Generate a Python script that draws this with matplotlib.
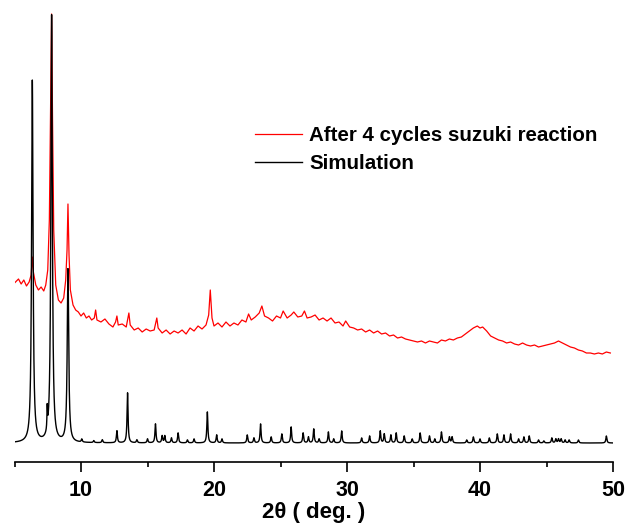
import matplotlib
matplotlib.use("Agg")
import matplotlib.pyplot as plt
import numpy as np

# Simulated pattern: peak positions (2theta), heights above baseline, widths
sim_pos = [6.34, 7.46, 7.79, 9.02, 10.06, 10.96, 11.6, 12.7, 13.5, 14.2, 15.0, 15.6,
           16.1, 16.3, 16.8, 17.3, 18.0, 18.5, 19.5, 20.2, 20.6, 22.5, 23.0, 23.5,
           24.3, 25.1, 25.8, 26.7, 27.1, 27.5, 27.9, 28.6, 29.0, 29.6, 31.1, 31.7,
           32.5, 32.8, 33.3, 33.7, 34.3, 34.9, 35.5, 36.2, 36.6, 37.1, 37.7, 37.9,
           39.0, 39.5, 40.0, 40.7, 41.3, 41.8, 42.3, 42.9, 43.3, 43.7, 44.4, 44.8,
           45.4, 45.7, 45.9, 46.1, 46.4, 46.7, 47.4, 49.5]
sim_height = [362, 22, 427, 173, 3, 2, 3, 12, 50, 3, 4, 19,
              7, 7, 5, 10, 3, 4, 31, 8, 4, 8, 5, 19,
              6, 9, 16, 10, 6, 14, 4, 11, 4, 12, 5, 7,
              12, 9, 8, 10, 7, 4, 10, 7, 4, 11, 6, 6,
              3, 6, 4, 5, 9, 8, 9, 4, 6, 7, 3, 2,
              5, 4, 4, 4, 3, 3, 3, 7]
sim_fwhm = [0.13, 0.05, 0.13, 0.13]
sim_baseline = 24

exp_theta = [5.0, 5.3, 5.5, 5.7, 5.9, 6.1, 6.25, 6.34, 6.42, 6.6, 6.8, 7.0, 7.2, 7.35,
             7.5, 7.62, 7.72, 7.79, 7.86, 7.95, 8.1, 8.3, 8.5, 8.7, 8.85, 8.95, 9.02,
             9.1, 9.2, 9.4, 9.6, 9.8, 10.0, 10.2, 10.4, 10.6, 10.8, 11.0, 11.1, 11.2,
             11.5, 11.8, 12.1, 12.4, 12.6, 12.7, 12.8, 13.1, 13.4, 13.6, 13.7, 14.0,
             14.3, 14.6, 14.9, 15.2, 15.5, 15.7, 15.8, 16.1, 16.4, 16.7, 17.0, 17.3,
             17.6, 17.9, 18.2, 18.5, 18.8, 19.1, 19.4, 19.6, 19.72, 19.85, 20.0, 20.3,
             20.6, 20.9, 21.2, 21.5, 21.8, 22.1, 22.4, 22.6, 22.8, 23.1, 23.4, 23.6,
             23.8, 24.1, 24.4, 24.7, 25.0, 25.2, 25.5, 25.8, 26.0, 26.3, 26.6, 26.8,
             27.0, 27.3, 27.6, 27.9, 28.2, 28.5, 28.8, 29.1, 29.4, 29.7, 29.9, 30.2,
             30.5, 30.8, 31.1, 31.4, 31.7, 32.0, 32.3, 32.6, 32.9, 33.2, 33.5, 33.8,
             34.1, 34.4, 34.7, 35.0, 35.3, 35.6, 35.9, 36.2, 36.5, 36.8, 37.1, 37.4,
             37.7, 38.0, 38.3, 38.6, 38.9, 39.2, 39.5, 39.8, 40.0, 40.2, 40.5, 40.8,
             41.1, 41.4, 41.7, 42.0, 42.3, 42.6, 42.9, 43.2, 43.5, 43.8, 44.1, 44.4,
             44.7, 45.0, 45.3, 45.6, 45.9, 46.2, 46.5, 46.8, 47.1, 47.4, 47.7, 48.0,
             48.3, 48.6, 48.9, 49.2, 49.5, 49.8]
exp_pixel = [283, 279, 284, 280, 286, 282, 275, 257, 272, 285, 290, 287, 291, 285,
             270, 220, 100, 14, 120, 230, 285, 300, 303, 298, 280, 250, 204,
             255, 290, 305, 310, 312, 316, 313, 318, 316, 320, 318, 310, 320,
             322, 319, 324, 327, 322, 316, 325, 324, 327, 313, 325, 330,
             328, 332, 329, 331, 330, 318, 328, 333, 330, 334, 331, 333,
             330, 334, 328, 331, 326, 329, 325, 315, 290, 318, 326, 323,
             327, 322, 326, 323, 325, 320, 322, 314, 320, 317, 313, 306,
             316, 318, 321, 316, 318, 311, 318, 315, 312, 317, 316, 311,
             318, 317, 315, 320, 318, 321, 318, 323, 322, 326, 321, 327,
             328, 330, 329, 332, 330, 333, 331, 334, 333, 336, 335, 338,
             337, 339, 340, 341, 342, 341, 343, 341, 342, 343, 340, 341,
             339, 340, 338, 337, 334, 331, 328, 326, 328, 327, 331, 336,
             338, 340, 341, 343, 342, 344, 345, 343, 345, 346, 345, 347,
             346, 345, 344, 343, 341, 343, 345, 347, 348, 350, 351, 353,
             353, 354, 353, 354, 352, 353]
exp_intensity = [467 - p for p in exp_pixel]

# Build simulated profile from the peak list (Lorentzian lines)
tt = np.linspace(5, 50, 9001)
sim = np.full_like(tt, sim_baseline, dtype=float)
for i, (p, h) in enumerate(zip(sim_pos, sim_height)):
    w = sim_fwhm[i] if i < len(sim_fwhm) else 0.09
    sim += h * (w / 2) ** 2 / ((tt - p) ** 2 + (w / 2) ** 2)

fig = plt.figure(figsize=(6.29, 5.29), dpi=100)
ax = fig.add_axes([14.5 / 629, 67 / 529, 598.5 / 629, 462 / 529])

ax.plot(exp_theta, exp_intensity, color="#ff0000", linewidth=0.9,
        label="After 4 cycles suzuki reaction")
ax.plot(tt, sim, color="black", linewidth=1.0, label="Simulation")

ax.set_xlim(5, 50)
ax.set_ylim(5, 467)
ax.set_yticks([])
for s in ["left", "right", "top"]:
    ax.spines[s].set_visible(False)
ax.spines["bottom"].set_linewidth(1.2)

ax.set_xticks([10, 20, 30, 40, 50])
ax.set_xticks([5, 15, 25, 35, 45], minor=True)
ax.tick_params(axis="x", which="major", length=7, width=1.2, direction="out", pad=6)
ax.tick_params(axis="x", which="minor", length=3.5, width=1.2, direction="out")
for lbl in ax.get_xticklabels():
    lbl.set_fontfamily("Liberation Sans")
    lbl.set_fontweight("bold")
    lbl.set_fontsize(15.5)

ax.set_xlabel("2\u03b8 ( deg. )", fontsize=16, fontweight="bold",
              family=["Liberation Sans", "DejaVu Sans"], labelpad=1)

ax.legend(loc="upper left", bbox_to_anchor=(255 / 629, 1 - 126 / 529),
          bbox_transform=fig.transFigure, frameon=False, borderpad=0,
          borderaxespad=0, handlelength=2.3, handletextpad=0.35, labelspacing=0.45,
          prop={"family": "Liberation Sans", "weight": "bold", "size": 14.8})

fig.savefig("out.png", dpi=100)
